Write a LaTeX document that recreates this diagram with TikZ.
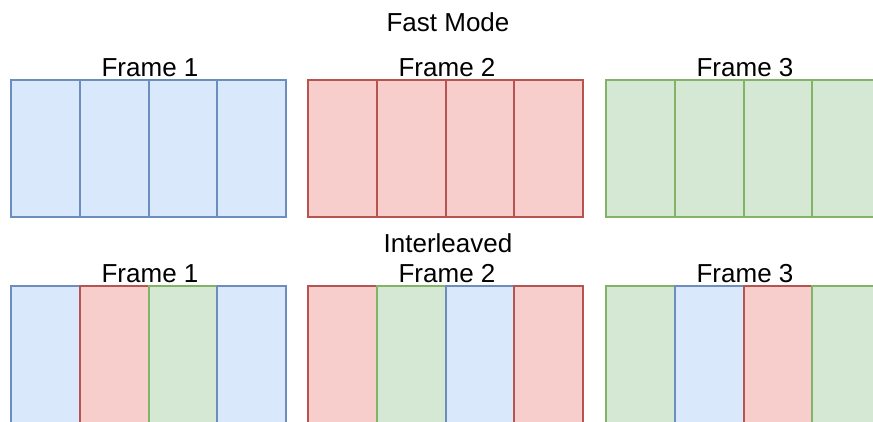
\documentclass[tikz,border=0pt]{standalone}
\usepackage{fontspec}
\setmainfont{Liberation Sans}
\definecolor{bluefill}{HTML}{DAE8FC}
\definecolor{blueline}{HTML}{6C8EBF}
\definecolor{redfill}{HTML}{F8CECC}
\definecolor{redline}{HTML}{B85450}
\definecolor{greenfill}{HTML}{D5E8D4}
\definecolor{greenline}{HTML}{82B366}
\tikzset{
  cell/.style={draw, line width=2pt, minimum width=68.75pt, minimum height=137pt,
    inner sep=0pt, outer sep=0pt, anchor=north west},
  B/.style={cell, fill=bluefill, draw=blueline},
  R/.style={cell, fill=redfill, draw=redline},
  G/.style={cell, fill=greenfill, draw=greenline},
  lbl/.style={font=\fontsize{26}{30}\selectfont, anchor=base, inner sep=0pt},
}
\begin{document}
\begin{tikzpicture}[x=1pt, y=-1pt]
\useasboundingbox (0,0) rectangle (873,421);
\clip (0,0) rectangle (873,421);

\node[lbl] (fast) at (448,31) {Fast Mode};
\node[lbl] (inter) at (448,252) {Interleaved};

% frame start positions
\def\xa{11}\def\xb{308}\def\xc{606}

% fast mode row
\foreach \x [count=\f] in {\xa,\xb,\xc}{
  \ifcase\f\or\def\st{B}\or\def\st{R}\or\def\st{G}\fi
  \foreach \i in {0,1,2,3}{
    \node[\st] (top-\f-\i) at (\x+\i*68.75,80) {};
  }
  \node[lbl] (toplabel-\f) at (\x+139,76) {Frame \f};
}

% interleaved row
\foreach \x/\a/\b/\c/\d [count=\f] in {\xa/B/R/G/B, \xb/R/G/B/R, \xc/G/B/R/G}{
  \node[\a] (bot-\f-0) at (\x,286) {};
  \node[\b] (bot-\f-1) at (\x+68.75,286) {};
  \node[\c] (bot-\f-2) at (\x+137.5,286) {};
  \node[\d] (bot-\f-3) at (\x+206.25,286) {};
  \node[lbl] (botlabel-\f) at (\x+139,282) {Frame \f};
}
\end{tikzpicture}
\end{document}
